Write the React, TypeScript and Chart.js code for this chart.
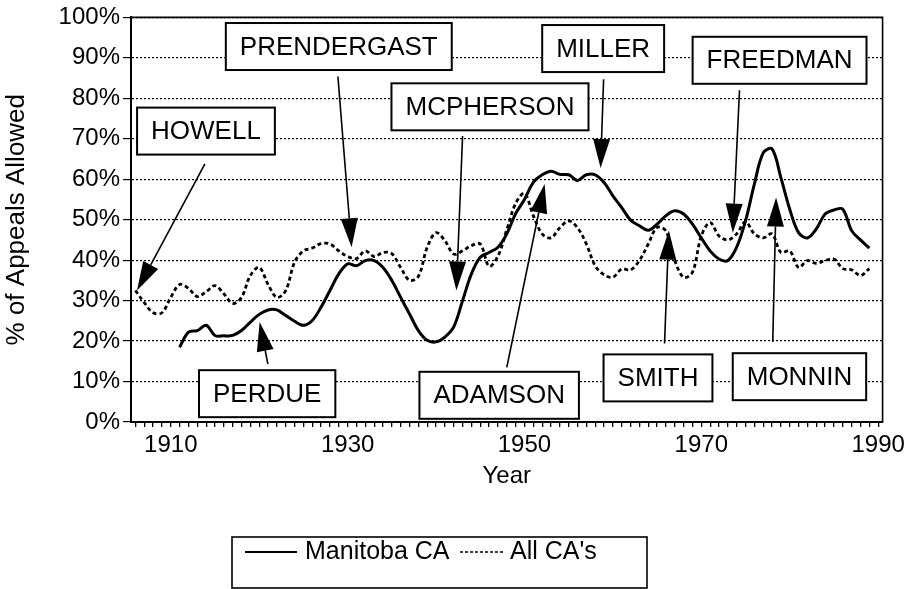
import React, { useEffect, useRef } from 'react';
import { Chart, registerables } from 'chart.js';

Chart.register(...registerables);

const FONT = "'Liberation Sans', Arial, Helvetica, sans-serif";

// ---- data ----
const ALL_START_YEAR = 1906;
const MAN_START_YEAR = 1911;

const ALL_CAS = [
  32.5, 29.5, 27.0, 27.0, 30.8, 34.0, 33.0, 31.0, 32.2, 33.7,
  31.7, 29.3, 30.8, 36.2, 38.2, 34.0, 30.8, 32.5, 39.5, 42.3,
  43.0, 44.1, 44.0, 42.3, 40.9, 40.4, 42.3, 40.9, 41.9, 41.6,
  38.2, 35.0, 36.0, 43.2, 46.8, 44.8, 41.5, 42.3, 43.6, 44.0,
  38.5, 41.0, 47.5, 54.0, 56.5, 51.0, 46.5, 45.5, 48.0, 49.7,
  48.0, 44.0, 38.6, 36.4, 35.8, 37.8, 37.6, 39.9, 44.0, 48.1,
  47.2, 39.9, 35.8, 37.0, 46.0, 49.3, 46.0, 45.0, 46.5, 49.5,
  46.5, 45.5, 46.5, 41.9, 42.3, 38.2, 39.9, 39.2, 39.9, 40.3,
  37.9, 37.6, 36.2, 37.9,
];

const MANITOBA_CA = [
  18.5, 22.2, 22.6, 23.9, 21.4, 21.3, 21.4, 22.6, 24.7, 26.6,
  27.7, 27.7, 26.3, 24.9, 23.9, 25.1, 28.4, 32.5, 36.6, 39.1,
  38.6, 39.9, 39.9, 38.2, 35.0, 30.8, 26.7, 22.6, 20.2, 19.8,
  21.0, 23.5, 30.0, 36.6, 40.7, 41.9, 43.2, 46.5, 51.5, 55.0,
  59.2, 61.1, 62.0, 61.2, 61.1, 59.7, 61.1, 61.1, 59.2, 55.9,
  53.0, 49.9, 48.5, 47.4, 48.9, 51.0, 52.2, 51.4, 48.9, 45.5,
  42.3, 40.3, 39.9, 43.2, 49.7, 58.8, 66.5, 67.5, 60.4, 52.6,
  46.8, 45.5, 47.7, 51.4, 52.4, 52.6, 47.3, 45.0, 43.0,
];

const X_FIRST_YEAR = 1906;
const X_LAST_YEAR = 1990;
const X_LABEL_YEARS = [1910, 1930, 1950, 1970, 1990];

const SERIES_NAMES = ['Manitoba CA', "All CA's"];

// annotation anchors in data units: box centre, arrow tail, arrow tip
const ANNOTATIONS = [
  { text: 'HOWELL', box: [1913.98, 71.9], from: [1913.86, 63.8], to: [1906.18, 32.5] },
  { text: 'PRENDERGAST', box: [1929.0, 92.8], from: [1928.9, 85.4], to: [1930.45, 43.2] },
  { text: 'MCPHERSON', box: [1946.1, 77.9], from: [1943.0, 70.7], to: [1942.3, 32.5] },
  { text: 'MILLER', box: [1958.9, 92.3], from: [1958.95, 84.7], to: [1958.61, 62.8] },
  { text: 'FREEDMAN', box: [1978.85, 89.4], from: [1974.32, 82.0], to: [1973.56, 46.8] },
  { text: 'PERDUE', box: [1920.9, 7.0], from: [1920.98, 14.3], to: [1920.05, 24.7] },
  { text: 'ADAMSON', box: [1947.14, 6.6], from: [1948.0, 13.5], to: [1952.28, 58.8] },
  { text: 'SMITH', box: [1965.1, 10.9], from: [1965.84, 19.4], to: [1966.33, 47.3] },
  { text: 'MONNIN', box: [1981.1, 11.2], from: [1978.08, 19.8], to: [1978.46, 55.5] },
];

const toPoints = (start: number, vals: number[]) => vals.map((v, i) => ({ x: start + i, y: v }));

const annotationPlugin = {
  id: 'annots',
  afterDraw(chart: any) {
    const { ctx, scales } = chart;
    const xs = scales.x;
    const ys = scales.y;
    const HEAD_LEN = 29;
    const HEAD_W = 17;
    ctx.save();
    ctx.font = `26px ${FONT}`;
    for (const a of ANNOTATIONS) {
      const fx = xs.getPixelForValue(a.from[0]);
      const fy = ys.getPixelForValue(a.from[1]);
      const tx = xs.getPixelForValue(a.to[0]);
      const ty = ys.getPixelForValue(a.to[1]);
      const dx = tx - fx;
      const dy = ty - fy;
      const len = Math.hypot(dx, dy);
      const ux = dx / len;
      const uy = dy / len;
      const bx = tx - ux * HEAD_LEN;
      const by = ty - uy * HEAD_LEN;
      ctx.strokeStyle = '#000';
      ctx.lineWidth = 1.6;
      ctx.beginPath();
      ctx.moveTo(fx, fy);
      ctx.lineTo(bx, by);
      ctx.stroke();
      ctx.beginPath();
      ctx.moveTo(tx, ty);
      ctx.lineTo(bx - uy * HEAD_W / 2, by + ux * HEAD_W / 2);
      ctx.lineTo(bx + uy * HEAD_W / 2, by - ux * HEAD_W / 2);
      ctx.closePath();
      ctx.fillStyle = '#000';
      ctx.fill();

      const cx = xs.getPixelForValue(a.box[0]);
      const cy = ys.getPixelForValue(a.box[1]);
      const w = ctx.measureText(a.text).width + 28;
      const h = 47;
      ctx.fillStyle = '#fff';
      ctx.fillRect(cx - w / 2, cy - h / 2, w, h);
      ctx.lineWidth = 2;
      ctx.strokeStyle = '#000';
      ctx.strokeRect(cx - w / 2, cy - h / 2, w, h);
      ctx.fillStyle = '#000';
      ctx.textAlign = 'center';
      ctx.textBaseline = 'middle';
      ctx.fillText(a.text, cx, cy + 1);
    }
    ctx.restore();
  },
};

const framePlugin = {
  id: 'frame',
  afterDatasetsDraw(chart: any) {
    const { ctx, chartArea } = chart;
    ctx.save();
    ctx.strokeStyle = '#000';
    ctx.lineWidth = 1.6;
    ctx.beginPath();
    ctx.moveTo(chartArea.left, chartArea.top);
    ctx.lineTo(chartArea.right, chartArea.top);
    ctx.lineTo(chartArea.right, chartArea.bottom);
    ctx.stroke();
    ctx.restore();
  },
};

const legendPlugin = {
  id: 'customLegend',
  afterDraw(chart: any) {
    const { ctx } = chart;
    const left = 232;
    const top = 537;
    const right = 647;
    const bottom = 588;
    const cy = 552;
    ctx.save();
    ctx.strokeStyle = '#000';
    ctx.lineWidth = 1.6;
    ctx.strokeRect(left, top, right - left, bottom - top);
    ctx.font = `25px ${FONT}`;
    ctx.fillStyle = '#000';
    ctx.textBaseline = 'middle';
    ctx.textAlign = 'left';
    ctx.lineWidth = 2.2;
    ctx.beginPath();
    ctx.moveTo(245, cy);
    ctx.lineTo(297, cy);
    ctx.stroke();
    ctx.fillText(SERIES_NAMES[0], 305, cy);
    ctx.lineWidth = 1.5;
    ctx.setLineDash([3, 2]);
    ctx.beginPath();
    ctx.moveTo(460, cy);
    ctx.lineTo(503, cy);
    ctx.stroke();
    ctx.setLineDash([]);
    ctx.fillText(SERIES_NAMES[1], 510, cy);
    ctx.restore();
  },
};

export default function App() {
  const canvasRef = useRef<HTMLCanvasElement | null>(null);

  useEffect(() => {
    if (!canvasRef.current) return;
    Chart.defaults.font.family = FONT;
    Chart.defaults.color = '#000';

    const chart = new Chart(canvasRef.current, {
      type: 'line',
      data: {
        datasets: [
          {
            label: SERIES_NAMES[0],
            data: toPoints(MAN_START_YEAR, MANITOBA_CA),
            borderColor: '#000',
            borderWidth: 3,
            pointRadius: 0,
            tension: 0.35,
            fill: false,
          },
          {
            label: SERIES_NAMES[1],
            data: toPoints(ALL_START_YEAR, ALL_CAS),
            borderColor: '#000',
            borderWidth: 2.8,
            borderDash: [4, 3],
            pointRadius: 0,
            tension: 0.35,
            fill: false,
          },
        ],
      },
      options: {
        responsive: false,
        animation: false,
        layout: { padding: { top: 16, right: 26, bottom: 0, left: 0 } },
        plugins: {
          legend: { display: false },
          tooltip: { enabled: false },
        },
        scales: {
          x: {
            type: 'linear',
            min: X_FIRST_YEAR - 0.5,
            max: X_LAST_YEAR + 0.5,
            afterBuildTicks: (scale: any) => {
              const t = [];
              for (let yr = X_FIRST_YEAR; yr <= X_LAST_YEAR; yr++) t.push({ value: yr });
              scale.ticks = t;
            },
            afterFit: (scale: any) => {
              scale.height = 167;
            },
            ticks: {
              autoSkip: false,
              maxRotation: 0,
              padding: 4,
              font: { size: 24 },
              color: '#000',
              callback: (v: any) => (X_LABEL_YEARS.includes(Number(v)) ? String(v) : ''),
            },
            grid: {
              drawOnChartArea: false,
              drawTicks: true,
              tickLength: 5,
              color: '#000',
              lineWidth: 1.3,
            },
            border: { display: true, color: '#000', width: 2 },
            title: {
              display: true,
              text: 'Year',
              font: { size: 24 },
              color: '#000',
              padding: { top: 0, bottom: 98 },
            },
          },
          y: {
            min: 0,
            max: 100,
            afterFit: (scale: any) => {
              scale.width = 131;
            },
            ticks: {
              stepSize: 10,
              padding: 3,
              font: { size: 24 },
              color: '#000',
              callback: (v: any) => `${v}%`,
            },
            grid: {
              drawOnChartArea: true,
              drawTicks: true,
              tickLength: 8,
              color: '#000',
              lineWidth: 1.2,
              tickBorderDash: [],
            },
            border: { display: true, color: '#000', width: 2, dash: [2, 2] },
            title: {
              display: true,
              text: '% of Appeals Allowed',
              font: { size: 26 },
              color: '#000',
              padding: { top: 1, bottom: 0 },
            },
          },
        },
      },
      plugins: [framePlugin, annotationPlugin, legendPlugin],
    } as any);

    return () => chart.destroy();
  }, []);

  return (
    <div style={{ position: 'fixed', left: 0, top: 0, width: 909, height: 589, background: '#fff' }}>
      <canvas ref={canvasRef} width={909} height={589} style={{ display: 'block' }} />
    </div>
  );
}
